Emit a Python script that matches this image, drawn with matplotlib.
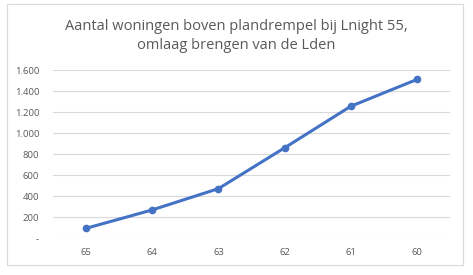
import matplotlib
matplotlib.use('Agg')

import matplotlib.pyplot as plt
import matplotlib.patches as mpatches

# Data
lden_labels = ["65", "64", "63", "62", "61", "60"]
woningen = [95, 270, 472, 860, 1255, 1510]
y_ticks = [0, 200, 400, 600, 800, 1000, 1200, 1400, 1600]
y_tick_labels = ["-", "200", "400", "600", "800", "1.000", "1.200", "1.400", "1.600"]

LINE_COLOR = "#4472C4"
TEXT_COLOR = "#595959"
GRID_COLOR = "#D9D9D9"

plt.rcParams['font.family'] = ['Open Sans', 'DejaVu Sans']

fig = plt.figure(figsize=(4.73, 2.75), dpi=100)
fig.patch.set_facecolor("white")

# Light grey chart border like the spreadsheet chart frame
fig.patches.append(mpatches.Rectangle(
    (6.5 / 473, 1 - 265 / 275), (463 - 6.5) / 473, (265 - 4) / 275,
    transform=fig.transFigure, fill=False, edgecolor="#D9D9D9", linewidth=0.8,
))

ax = fig.add_axes([53 / 473, 1 - 238.3 / 275, (450 - 53) / 473, (238.3 - 70) / 275])

x = list(range(len(lden_labels)))
ax.plot(x, woningen, color=LINE_COLOR, linewidth=2.2, marker="o",
        markersize=4.5, solid_capstyle="round", zorder=3, clip_on=False)

ax.set_xlim(-0.5, len(lden_labels) - 0.5)
ax.set_ylim(0, 1600)
ax.set_xticks(x)
ax.set_xticklabels(lden_labels)
ax.set_yticks(y_ticks)
ax.set_yticklabels(y_tick_labels)

ax.tick_params(axis="both", length=0, labelsize=6.8, labelcolor=TEXT_COLOR)
ax.tick_params(axis="x", pad=7)
ax.tick_params(axis="y", pad=10)
ax.grid(axis="y", color=GRID_COLOR, linewidth=0.8)
ax.set_axisbelow(True)
for spine in ax.spines.values():
    spine.set_visible(False)

fig.text(236 / 473, 1 - 36 / 275,
         "Aantal woningen boven plandrempel bij Lnight 55,\nomlaag brengen van de Lden",
         ha="center", va="center", fontsize=10.5, color=TEXT_COLOR, linespacing=1.3)

plt.savefig("out.png", dpi=100)
plt.close(fig)
